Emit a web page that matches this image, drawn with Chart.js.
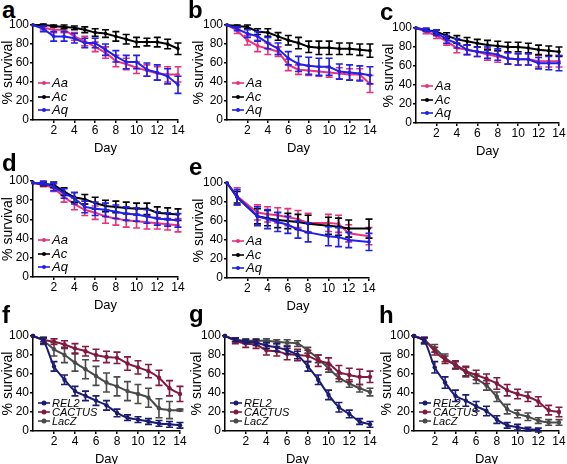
<!DOCTYPE html>
<html lang="en">
<head>
<meta charset="UTF-8">
<title>Survival curves</title>
<script src="https://cdn.jsdelivr.net/npm/chart.js"></script>
<style>
  body { margin: 0; background: #fff; }
  #fig { position: relative; width: 567px; height: 464px; overflow: hidden; }
  #fig canvas { position: absolute; }
  .letter { position: absolute; font: bold 24px "Liberation Sans", Arial, sans-serif; line-height: 24px; color: #000; }
</style>
</head>
<body>
<div id="fig"></div>
<script>
// days 0..14, survival in %, error = half length of bar
const days = [0,1,2,3,4,5,6,7,8,9,10,11,12,13,14];

const mosqNames = ['Aa', 'Ac', 'Aq'];
const knockNames = ['REL2', 'CACTUS', 'LacZ'];

// panel a
const aAa  = [100,97,95,95,88,83,77,71,62,59,55,52,49,48,48];
const aAaE = [0,2,3,3,4,5,5,6,6,6,6,6,7,8,8];
const aAc  = [100,100,99,98,97,95,92,91,88,85,82,82,82,80,75];
const aAcE = [0,1,1,2,2,3,4,4,5,5,5,4,5,5,6];
const aAq  = [100,96,88,88,86,81,81,74,67,61,61,53,50,46,37];
const aAqE = [0,3,5,5,5,5,5,6,6,7,7,7,8,8,9];
// panel b
const bAa  = [100,94,84,78,75,72,58,53,52,51,50,49,48,48,38];
const bAaE = [0,3,5,6,6,5,6,5,5,5,5,6,6,6,9];
const bAc  = [100,99,98,93,92,88,84,81,77,76,76,75,75,74,73];
const bAcE = [0,1,2,3,4,4,5,6,6,7,7,6,6,6,7];
const bAq  = [100,96,91,88,81,75,65,59,57,56,56,51,50,49,47];
const bAqE = [0,2,4,5,6,6,7,8,9,9,9,8,8,8,9];
// panel c
const cAa  = [100,96,92,86,79,77,75,72,70,68,67,67,65,65,65];
const cAaE = [0,2,3,4,5,5,5,6,6,6,6,6,6,6,6];
const cAc  = [100,98,96,92,88,86,84,82,81,80,80,79,77,76,75];
const cAcE = [0,1,2,3,4,4,4,5,5,5,5,5,5,5,5];
const cAq  = [100,98,95,88,84,77,75,74,72,68,67,67,63,63,63];
const cAqE = [0,2,3,4,5,5,5,6,6,6,6,6,6,7,8];
// panel d
const dAa  = [98,96,93,83,76,70,67,63,61,59,58,57,56,55,54];
const dAaE = [0,2,4,5,6,6,7,7,7,7,7,7,6,6,7];
const dAc  = [98,97,96,89,83,81,77,74,73,72,71,71,67,66,65];
const dAcE = [0,2,3,4,5,5,6,6,6,6,6,6,6,6,6];
const dAq  = [98,98,94,87,82,73,71,70,68,66,65,63,61,60,59];
const dAqE = [0,2,4,5,6,6,7,7,7,7,7,7,7,7,7];
// panel e (no counts on days 2, 9, 13)
const eAa  = [100,86,null,69,67,66,64,62,58,null,58,57,47,null,44];
const eAaE = [0,9,null,8,8,8,9,9,10,null,9,9,9,null,9];
const eAc  = [100,85,null,65,63,61,60,59,57,null,55,54,52,null,52];
const eAcE = [0,6,null,8,8,8,8,8,9,null,9,9,9,null,10];
const eAq  = [100,85,null,65,62,59,56,51,48,null,44,43,40,null,38];
const eAqE = [0,8,null,10,10,10,9,9,10,null,10,10,8,null,9];
// panel f
const fRel  = [100,95,68,54,42,37,32,27,19,14,12,10,8,7,6];
const fRelE = [0,3,5,5,5,5,5,5,4,3,3,3,3,3,3];
const fCac  = [100,96,94,91,87,84,80,78,77,71,67,63,56,45,39];
const fCacE = [0,2,3,4,5,5,6,6,6,7,7,7,8,8,8];
const fLac  = [100,95,86,80,72,65,58,51,47,42,39,35,24,22,22];
const fLacE = [0,4,7,8,9,10,10,10,10,10,10,10,10,9,1];
// panel g
const gRel  = [100,96,94,93,90,88,85,80,68,54,38,25,18,10,7];
const gRelE = [0,2,2,3,3,4,4,4,5,5,5,5,4,3,3];
const gCac  = [100,95,92,91,85,84,81,80,79,74,71,62,59,57,57];
const gCacE = [0,3,4,4,5,5,6,6,6,6,6,7,7,8,6];
const gLac  = [100,96,95,95,95,94,93,92,85,76,66,56,50,45,41];
const gLacE = [0,2,2,2,2,2,3,3,3,4,4,4,4,4,4];
// panel h
const hRel  = [100,95,67,51,37,32,26,21,12,6,4,2,1,null,null];
const hRelE = [0,3,6,6,6,6,5,5,4,3,3,2,2,null,null];
const hCac  = [100,96,84,75,70,63,59,55,50,43,39,36,31,22,20];
const hCacE = [0,3,4,4,4,5,5,5,6,6,5,5,5,5,5];
const hLac  = [100,95,87,77,69,62,55,48,36,23,18,15,11,9,9];
const hLacE = [0,3,4,4,4,5,5,5,5,5,4,4,3,3,3];

const mosqColors = ['#e8317d', '#000000', '#2020e6'];
const knockColors = ['#1b1b72', '#821a3c', '#4a4a4a'];

const FONT = '"Liberation Sans", Arial, sans-serif';
Chart.defaults.font.family = FONT;
Chart.defaults.color = '#000';

// cl = canvas left, left/right/top/bottom = plot area on the page, lb = letter baseline
const panels = [
  { letter: 'a', lx: 2,   lb: 18,  cl: 0,   left: 33,  right: 178, top: 25,  bottom: 120, names: mosqNames,  colors: mosqColors,  vals: [aAa, aAc, aAq], errs: [aAaE, aAcE, aAqE], small: false },
  { letter: 'b', lx: 188, lb: 18,  cl: 191, left: 227, right: 370, top: 25,  bottom: 120, names: mosqNames,  colors: mosqColors,  vals: [bAa, bAc, bAq], errs: [bAaE, bAcE, bAqE], small: false },
  { letter: 'c', lx: 380, lb: 20,  cl: 381, left: 416, right: 559, top: 28,  bottom: 123, names: mosqNames,  colors: mosqColors,  vals: [cAa, cAc, cAq], errs: [cAaE, cAcE, cAqE], small: false },
  { letter: 'd', lx: 2,   lb: 171, cl: 0,   left: 33,  right: 178, top: 181, bottom: 277, names: mosqNames,  colors: mosqColors,  vals: [dAa, dAc, dAq], errs: [dAaE, dAcE, dAqE], small: false },
  { letter: 'e', lx: 189, lb: 175, cl: 191, left: 227, right: 369, top: 183, bottom: 278, names: mosqNames,  colors: mosqColors,  vals: [eAa, eAc, eAq], errs: [eAaE, eAcE, eAqE], small: false },
  { letter: 'f', lx: 2,   lb: 323, cl: 0,   left: 33,  right: 180, top: 336, bottom: 431, names: knockNames, colors: knockColors, vals: [fRel, fCac, fLac], errs: [fRelE, fCacE, fLacE], small: true },
  { letter: 'g', lx: 189, lb: 322, cl: 189, left: 225, right: 370, top: 336, bottom: 431, names: knockNames, colors: knockColors, vals: [gRel, gCac, gLac], errs: [gRelE, gCacE, gLacE], small: true },
  { letter: 'h', lx: 379, lb: 323, cl: 379, left: 414, right: 559, top: 336, bottom: 431, names: knockNames, colors: knockColors, vals: [hRel, hCac, hLac], errs: [hRelE, hCacE, hLacE], small: true }
];

// vertical error bars with caps, drawn right after each line
const errorBars = {
  id: 'errorBars',
  afterDatasetDraw(chart, args) {
    const ds = chart.data.datasets[args.index];
    const y = chart.scales.y;
    const ctx = chart.ctx;
    ctx.save();
    ctx.strokeStyle = ds.borderColor;
    ctx.lineWidth = 1.6;
    args.meta.data.forEach((pt, i) => {
      const v = ds.data[i].y, e = ds.errs[i];
      if (v == null || !e) return;
      const t = y.getPixelForValue(v + e), b = y.getPixelForValue(v - e);
      ctx.beginPath();
      ctx.moveTo(pt.x, t); ctx.lineTo(pt.x, b);
      ctx.moveTo(pt.x - 3.5, t); ctx.lineTo(pt.x + 3.5, t);
      ctx.moveTo(pt.x - 3.5, b); ctx.lineTo(pt.x + 3.5, b);
      ctx.stroke();
    });
    ctx.restore();
  }
};

// legend inside the plot, bottom left
const inLegend = {
  id: 'inLegend',
  afterDraw(chart, args, opts) {
    const { ctx, chartArea } = chart;
    ctx.save();
    ctx.font = 'italic ' + opts.size + 'px ' + FONT;
    ctx.textBaseline = 'middle';
    chart.data.datasets.forEach((ds, i) => {
      const yy = chartArea.bottom - opts.rows[i];
      const x0 = chartArea.left + 5, x1 = chartArea.left + 17;
      ctx.strokeStyle = ds.borderColor;
      ctx.fillStyle = ds.borderColor;
      ctx.lineWidth = 1.6;
      ctx.beginPath(); ctx.moveTo(x0, yy); ctx.lineTo(x1, yy); ctx.stroke();
      ctx.beginPath(); ctx.arc((x0 + x1) / 2, yy, opts.small ? 2.5 : 2, 0, Math.PI * 2); ctx.fill();
      ctx.fillStyle = '#000';
      ctx.fillText(ds.label, chartArea.left + 19, yy + 0.5);
    });
    ctx.restore();
  }
};

const fig = document.getElementById('fig');
const PT = 10, PR = 12, XH = 38;

panels.forEach(p => {
  const lt = document.createElement('div');
  lt.className = 'letter';
  lt.textContent = p.letter;
  lt.style.left = p.lx + 'px';
  lt.style.top = (p.lb - 20.3) + 'px';
  fig.appendChild(lt);

  const cv = document.createElement('canvas');
  cv.width = p.right - p.cl + PR;
  cv.height = p.bottom - p.top + PT + XH;
  cv.style.left = p.cl + 'px';
  cv.style.top = (p.top - PT) + 'px';
  fig.appendChild(cv);
  const yw = p.left - p.cl;

  const datasets = p.vals.map((vals, k) => ({
    label: p.names[k],
    data: days.map((d, i) => ({ x: d, y: vals[i] })),
    errs: p.errs[k],
    borderColor: p.colors[k],
    backgroundColor: p.colors[k],
    borderWidth: 2,
    pointRadius: p.small ? 2.2 : 1.8,
    pointBorderWidth: 0,
    tension: p.small ? 0.25 : 0,
    spanGaps: true,
    clip: false,
    order: p.small ? k : 2 - k
  }));

  new Chart(cv, {
    type: 'line',
    data: { datasets },
    options: {
      responsive: false,
      animation: false,
      layout: { padding: { left: 0, top: PT, right: PR, bottom: 0 } },
      plugins: {
        legend: { display: false },
        tooltip: { enabled: false },
        inLegend: p.small ? { size: 11, rows: [28, 19, 10], small: true } : { size: 13, rows: [37, 23, 10], small: false }
      },
      scales: {
        x: {
          type: 'linear', min: 0, max: 14,
          afterFit(s) { s.height = XH; s.paddingLeft = 0; s.paddingRight = 0; },
          ticks: { stepSize: 2, autoSkip: false, maxRotation: 0, padding: 0, font: { size: 12 }, color: '#000',
                   callback: v => v === 0 ? '' : v },
          grid: { drawOnChartArea: false, tickLength: 3, lineWidth: 1.5,
                  color: c => (c.tick && c.tick.value === 0) ? 'rgba(0,0,0,0)' : '#000' },
          border: { color: '#000', width: 1.5 },
          title: { display: true, text: 'Day', font: { size: 13 }, color: '#000', padding: { top: 0, bottom: 2 } }
        },
        y: {
          min: 0, max: 100,
          afterFit(s) { s.width = yw; s.paddingTop = 0; s.paddingBottom = 0; },
          ticks: { stepSize: 20, padding: 1, font: { size: 12 }, color: '#000' },
          grid: { drawOnChartArea: false, tickLength: 3, lineWidth: 1.5, color: '#000' },
          border: { color: '#000', width: 1.5 },
          title: { display: true, text: '% survival', font: { size: 14 }, color: '#000', padding: { top: 0, bottom: 0 } }
        }
      }
    },
    plugins: [errorBars, inLegend]
  });
});
</script>
</body>
</html>
